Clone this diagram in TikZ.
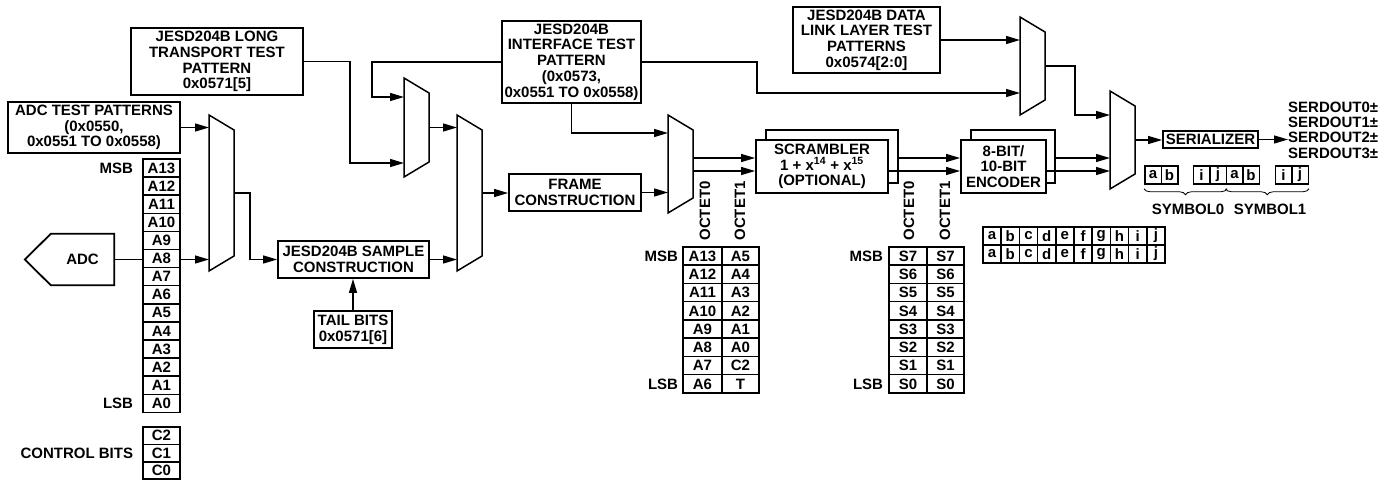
\documentclass[tikz,border=0pt]{standalone}
\usepackage{fontspec}
\setmainfont{Liberation Sans}
\usetikzlibrary{arrows.meta,decorations.pathreplacing}
\newcommand{\diagfont}{\fontsize{15}{15.7}\selectfont\bfseries}
\newcommand{\muxblk}[4]{%
  \draw[muxline] (#2,#3) -- (#2+25,#3+15) -- (#2+25,#4-15) -- (#2,#4) -- cycle;
  \coordinate (#1-w) at (#2,#3/2+#4/2);
  \coordinate (#1-e) at (#2+25,#3/2+#4/2);}
\tikzset{
  box/.style={draw, line width=1.8pt, fill=white, align=center, inner sep=0pt, font=\diagfont},
  cell/.style={draw, line width=1.5pt, fill=white, inner sep=0pt, minimum height=18.1pt, font=\diagfont},
  txt/.style={inner sep=0pt, font=\diagfont},
  wire/.style={line width=1.3pt},
  arr/.style={wire, -{Triangle[length=14pt,width=8pt]}},
  muxline/.style={line width=1.5pt, fill=white},
  brc/.style={decorate, decoration={brace, mirror, amplitude=6pt}, line width=0.8pt},
}

\begin{document}
\begin{tikzpicture}[x=1pt, y=-1pt]
\useasboundingbox (0,0) rectangle (1385,480);

\node[box, minimum width=172pt, minimum height=51pt] (adctp) at (94,127.5) {ADC TEST PATTERNS\\(0x0550,\\0x0551 TO 0x0558)};
\node[box, minimum width=172pt, minimum height=67pt] (ltp) at (217,61.5) {JESD204B LONG\\TRANSPORT TEST\\PATTERN\\0x0571[5]};
\node[box, minimum width=139pt, minimum height=82pt] (itp) at (571.5,62) {JESD204B\\INTERFACE TEST\\PATTERN\\(0x0573,\\0x0551 TO 0x0558)};
\node[box, minimum width=147pt, minimum height=66pt] (dll) at (866.5,40) {JESD204B DATA\\LINK LAYER TEST\\PATTERNS\\0x0574[2:0]};
\node[box, minimum width=151pt, minimum height=37pt] (smp) at (353.5,259.5) {JESD204B SAMPLE\\CONSTRUCTION};
\node[box, minimum width=78pt, minimum height=37pt] (tail) at (353,329.5) {TAIL BITS\\0x0571[6]};
\node[box, minimum width=132pt, minimum height=37pt] (frm) at (575,192.5) {FRAME\\CONSTRUCTION};
\node[box, minimum width=132pt, minimum height=53pt] (scrb) at (832,156.5) {};
\node[box, minimum width=132pt, minimum height=53pt] (scr) at (822,166.5) {SCRAMBLER\\1 + x\textsuperscript{14} + x\textsuperscript{15}\\(OPTIONAL)};
\node[box, minimum width=84pt, minimum height=53pt] (encb) at (1013,156.5) {};
\node[box, minimum width=85pt, minimum height=53pt] (enc) at (1003.5,166.5) {8-BIT/\\10-BIT\\ENCODER};
\node[box, minimum width=95pt, minimum height=17pt] (ser) at (1210.5,139.5) {SERIALIZER};
\node[txt, anchor=west, align=left, font=\fontsize{15}{15.3}\selectfont\bfseries] (sout) at (1288,130) {SERDOUT0±\\SERDOUT1±\\SERDOUT2±\\SERDOUT3±};

\node[txt, minimum width=63pt, minimum height=51pt] (adc) at (82.5,259.5) {ADC};
\draw[line width=1.8pt] (adc.north east) -- (adc.north west) -- ([xshift=-26pt]adc.west) -- (adc.south west) -- (adc.south east) -- cycle;

\foreach \b [count=\k from 0] in {13,12,...,0}
  \node[cell, minimum width=37pt] (a\b) at (161.5,168+18.1*\k) {A\b};
\node[txt, anchor=east] (msb1) at ([xshift=-9pt]a13.west) {MSB};
\node[txt, anchor=east] (lsb1) at ([xshift=-9pt]a0.west) {LSB};
\foreach \b [count=\k from 0] in {2,1,0}
  \node[cell, minimum width=37pt, minimum height=17.4pt] (c\b) at (161.5,435.7+17.4*\k) {C\b};
\node[txt, anchor=east] (ctl) at ([xshift=-9pt]c1.west) {CONTROL BITS};

\foreach \lo/\hi [count=\k from 0] in {A13/A5,A12/A4,A11/A3,A10/A2,A9/A1,A8/A0,A7/C2,A6/T} {
  \node[cell, minimum width=39pt, minimum height=18.25pt] (ol\k) at (702.5,256.1+18.25*\k) {\lo};
  \node[cell, minimum width=37pt, minimum height=18.25pt] (or\k) at (740.5,256.1+18.25*\k) {\hi};
}
\node[txt, anchor=east] (msb2) at ([xshift=-4pt]ol0.west) {MSB};
\node[txt, anchor=east] (lsb2) at ([xshift=-4pt]ol7.west) {LSB};

\foreach \s [count=\k from 0] in {7,6,...,0} {
  \node[cell, minimum width=38pt, minimum height=18.25pt] (sl\k) at (908,256.1+18.25*\k) {S\s};
  \node[cell, minimum width=37pt, minimum height=18.25pt] (sr\k) at (945.5,256.1+18.25*\k) {S\s};
}
\node[txt, anchor=east] (msb3) at ([xshift=-5pt]sl0.west) {MSB};
\node[txt, anchor=east] (lsb3) at ([xshift=-5pt]sl7.west) {LSB};

\node[txt, rotate=90] (oc0a) at (705,211) {OCTET0};
\node[txt, rotate=90] (oc1a) at (740,211) {OCTET1};
\node[txt, rotate=90] (oc0b) at (909,211) {OCTET0};
\node[txt, rotate=90] (oc1b) at (945,211) {OCTET1};

\foreach \ch [count=\k from 0] in {a,b,c,d,e,f,g,h,i,j} {
  \node[cell, minimum width=18.2pt, minimum height=18pt] (ta\k) at (992.1+18.2*\k,236) {\ch};
  \node[cell, minimum width=18.2pt, minimum height=18pt] (tb\k) at (992.1+18.2*\k,254) {\ch};
}

\foreach \ch/\xc [count=\k] in {a/1153,b/1169.5,i/1201.5,j/1218,a/1234.5,b/1251,i/1283.5,j/1300}
  \node[cell, minimum width=16.5pt, minimum height=18pt] (sy\k) at (\xc,175) {\ch};
\draw[brc] ([yshift=-4pt]sy1.south west) -- ([yshift=-4pt]sy4.south east);
\draw[brc] ([yshift=-4pt]sy5.south west) -- ([yshift=-4pt]sy8.south east);
\node[txt] (sym0) at (1188,209.5) {SYMBOL0};
\node[txt] (sym1) at (1270,209.5) {SYMBOL1};

\muxblk{m1}{209}{115}{271}
\muxblk{m2}{404}{78}{177}
\muxblk{m3}{457}{115}{271}
\muxblk{m4}{668}{115}{213}
\muxblk{m5}{1020}{17}{115}
\muxblk{m6}{1110}{91}{189}
\coordinate (m2-a) at (404,97);
\coordinate (m2-b) at (404,163);
\coordinate (m4-a) at (668,133);
\coordinate (m5-b) at (1020,93);
\coordinate (m6-a) at (1110,115);
\coordinate (oct0) at (693,158);
\coordinate (oct1) at (693,171);

\draw[wire] (adc.east) -- (adc.east -| a8.west);
\draw[arr] (adc.east -| a8.east) -- (adc.east -| m1-w);
\draw[arr] (adctp.east) -- (adctp.east -| m1-w);
\draw[arr] (m1-e) -- ++(16,0) |- (smp.west);
\draw[arr] (tail.north) -- (tail.north |- smp.south);
\draw[arr] (smp.east) -- (smp.east -| m3-w);
\draw[arr] (ltp.east) -- ++(46,0) |- (m2-b);
\draw[arr] (itp.west) -- ++(-129,0) |- (m2-a);
\draw[arr] (m2-e) -- (m2-e -| m3-w);
\draw[arr] (m3-e) -- (m3-e -| frm.west);
\draw[arr] (frm.east) -- (frm.east -| m4-w);
\draw[arr] (itp.south) |- (m4-a);
\draw[arr] (oct0) -- (oct0 -| scr.west);
\draw[arr] (oct1) -- (oct1 -| scr.west);
\draw[arr] (oct0 -| scrb.east) -- (oct0 -| enc.west);
\draw[arr] (oct1 -| scr.east) -- (oct1 -| enc.west);
\draw[arr] (oct0 -| encb.east) -- (oct0 -| m6-w);
\draw[arr] (oct1 -| enc.east) -- (oct1 -| m6-w);
\draw[arr] (dll.east) -- (dll.east -| m5-w);
\draw[arr] (itp.east) -- ++(115,0) |- (m5-b);
\draw[arr] (m5-e) -- ++(30,0) |- (m6-a);
\draw[arr] (m6-e) -- (m6-e -| ser.west);
\draw[arr] (ser.east) -- (ser.east -| sout.west);
\end{tikzpicture}
\end{document}
